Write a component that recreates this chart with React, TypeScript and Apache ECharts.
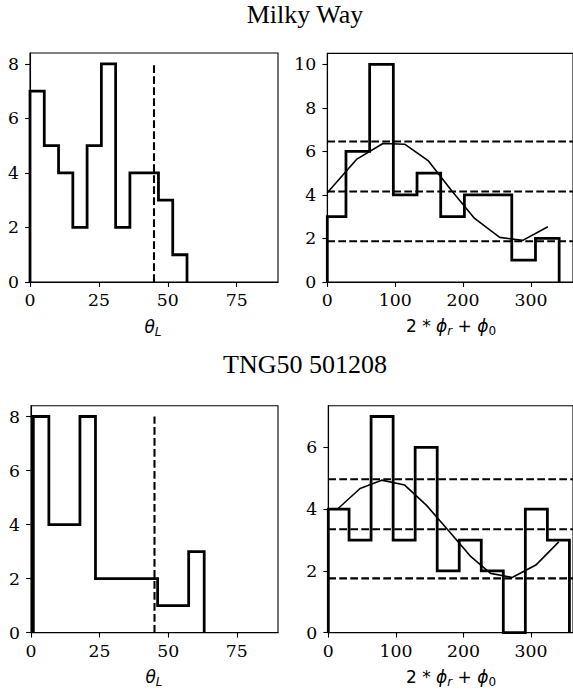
import React, { useEffect, useRef } from "react";
import * as echarts from "echarts";

// Milky Way: inclination histogram (theta_L)
const mwThetaEdges = [0, 5.18, 10.36, 15.54, 20.72, 25.9, 31.08, 36.26, 41.44, 46.62, 51.8, 56.98];
const mwThetaCounts = [7, 5, 4, 2, 5, 8, 2, 4, 4, 3, 1];

// Milky Way: phase histogram (2*phi_r + phi_0) with fitted curve and levels
const mwPhaseEdges = [0, 27.5, 62.4, 97.3, 132.2, 167.1, 202, 236.9, 271.8, 306.7, 341.6];
const mwPhaseCounts = [3, 6, 10, 4, 5, 3, 4, 4, 1, 2];
const mwFitX = [0, 43, 82, 114, 149, 183, 217, 254, 288, 325];
const mwFitY = [4.1, 5.63, 6.36, 6.33, 5.56, 4.2, 2.92, 2.05, 1.91, 2.54];
const mwLevels = [6.45, 4.16, 1.87];

// TNG50 501208: inclination histogram
const tngThetaEdges = [0.85, 6.51, 12.17, 17.83, 23.49, 29.15, 34.81, 40.47, 46.13, 51.79, 57.45, 63.11];
const tngThetaCounts = [8, 4, 4, 8, 2, 2, 2, 2, 1, 1, 3];

// TNG50 501208: phase histogram with fitted curve and levels
const tngPhaseEdges = [0, 30.7, 63.3, 95.9, 128.5, 161.1, 193.7, 226.3, 258.9, 291.5, 324.1, 356.7];
const tngPhaseCounts = [4, 3, 7, 3, 6, 2, 3, 2, 0, 4, 3];
const tngFitX = [15, 47, 79, 113, 145, 178, 211, 240, 272, 307, 341];
const tngFitY = [4.03, 4.67, 4.94, 4.78, 4.13, 3.3, 2.46, 1.92, 1.79, 2.19, 2.94];
const tngLevels = [4.97, 3.35, 1.76];

// Reference angle on the inclination panels
const thetaRef = 45;
const thetaRefTop = 8;

// Axis extents and tick values
const thetaMax = 90;
const phaseMax = 362;
const thetaTicks = [0, 25, 50, 75];
const phaseTicks = [0, 100, 200, 300];
const mwThetaYMax = 8.4;
const mwPhaseYMax = 10.5;
const tngThetaYMax = 8.4;
const tngPhaseYMax = 7.35;
const thetaYTicks = [0, 2, 4, 6, 8];
const mwPhaseYTicks = [0, 2, 4, 6, 8, 10];
const tngPhaseYTicks = [0, 2, 4, 6];

const stepOutline = (edges: number[], counts: number[]) => {
  const pts: number[][] = [[edges[0], 0]];
  counts.forEach((c, i) => {
    pts.push([edges[i], c]);
    pts.push([edges[i + 1], c]);
  });
  pts.push([edges[edges.length - 1], 0]);
  return pts;
};

const zip = (xs: number[], ys: number[]) => xs.map((x, i) => [x, ys[i]]);

const BLACK = "#000";
const TICK_FONT = "DejaVu Serif";
const MATH_FONT = "DejaVu Sans";
const TICK_SIZE = 17.3;
const MATH_SIZE = 17;
const SUB_SIZE = 12;

export default function App() {
  const ref = useRef<HTMLDivElement>(null);

  useEffect(() => {
    if (!ref.current) return;
    const chart = echarts.init(ref.current, undefined, { renderer: "svg" });

    const grids = [
      { left: 30, top: 53, width: 248, height: 229 },
      { left: 327.3, top: 53.4, width: 245.8, height: 228.6 },
      { left: 31, top: 405.7, width: 247, height: 227 },
      { left: 328.3, top: 405.7, width: 245.3, height: 227 },
    ].map((g) => ({
      ...g,
      show: true,
      borderColor: BLACK,
      borderWidth: 1.1,
      backgroundColor: "transparent",
    }));

    const makeAxis = (i: number, max: number, ticks: number[], margin: number) => ({
      type: "value" as const,
      gridIndex: i,
      min: 0,
      max,
      splitLine: { show: false },
      axisLine: { show: true, onZero: false, lineStyle: { color: BLACK, width: 1.1 } },
      axisTick: {
        show: true,
        inside: false,
        length: 4.9,
        customValues: ticks,
        lineStyle: { color: BLACK, width: 1.1 },
      },
      axisLabel: {
        show: true,
        customValues: ticks,
        margin,
        color: BLACK,
        fontFamily: TICK_FONT,
        fontSize: TICK_SIZE,
      },
    });

    const xAxis = [
      makeAxis(0, thetaMax, thetaTicks, 9.5),
      makeAxis(1, phaseMax, phaseTicks, 9.5),
      makeAxis(2, thetaMax, thetaTicks, 9.5),
      makeAxis(3, phaseMax, phaseTicks, 9.5),
    ];

    const yAxis = [
      makeAxis(0, mwThetaYMax, thetaYTicks, 11),
      makeAxis(1, mwPhaseYMax, mwPhaseYTicks, 11),
      makeAxis(2, tngThetaYMax, thetaYTicks, 11),
      makeAxis(3, tngPhaseYMax, tngPhaseYTicks, 11),
    ];

    const histSeries = (idx: number, edges: number[], counts: number[]) => ({
      type: "line" as const,
      xAxisIndex: idx,
      yAxisIndex: idx,
      data: stepOutline(edges, counts),
      symbol: "none",
      lineStyle: { color: BLACK, width: 2.78, join: "miter" as const, cap: "butt" as const },
      z: 3,
    });

    const dashed = { color: BLACK, width: 2.08, type: [7.7, 3.3] };

    const refLine = (idx: number) => ({
      type: "line" as const,
      xAxisIndex: idx,
      yAxisIndex: idx,
      data: [
        [thetaRef, 0],
        [thetaRef, thetaRefTop],
      ],
      symbol: "none",
      lineStyle: dashed,
      z: 2,
    });

    const levelLines = (idx: number, levels: number[]) =>
      levels.map((v) => ({
        type: "line" as const,
        xAxisIndex: idx,
        yAxisIndex: idx,
        data: [
          [0, v],
          [phaseMax, v],
        ],
        symbol: "none",
        lineStyle: dashed,
        z: 2,
      }));

    const fitCurve = (idx: number, xs: number[], ys: number[]) => ({
      type: "line" as const,
      xAxisIndex: idx,
      yAxisIndex: idx,
      data: zip(xs, ys),
      symbol: "none",
      lineStyle: { color: BLACK, width: 1.6 },
      z: 4,
    });

    const series = [
      histSeries(0, mwThetaEdges, mwThetaCounts),
      refLine(0),
      histSeries(1, mwPhaseEdges, mwPhaseCounts),
      ...levelLines(1, mwLevels),
      fitCurve(1, mwFitX, mwFitY),
      histSeries(2, tngThetaEdges, tngThetaCounts),
      refLine(2),
      histSeries(3, tngPhaseEdges, tngPhaseCounts),
      ...levelLines(3, tngLevels),
      fitCurve(3, tngFitX, tngFitY),
    ];

    const mathRich = {
      m: { fontFamily: MATH_FONT, fontStyle: "italic", fontSize: MATH_SIZE, lineHeight: 22, verticalAlign: "middle", fill: BLACK },
      n: { fontFamily: MATH_FONT, fontSize: MATH_SIZE, lineHeight: 22, verticalAlign: "middle", fill: BLACK },
      s: { fontFamily: MATH_FONT, fontStyle: "italic", fontSize: SUB_SIZE, lineHeight: 12, verticalAlign: "bottom", fill: BLACK },
      t: { fontFamily: MATH_FONT, fontSize: SUB_SIZE, lineHeight: 12, verticalAlign: "bottom", fill: BLACK },
    };

    const mathLabel = (x: number, y: number, text: string) => ({
      type: "text" as const,
      x,
      y,
      style: {
        text,
        align: "center",
        verticalAlign: "middle",
        rich: mathRich,
      },
    });

    const title = (y: number, text: string) => ({
      type: "text" as const,
      x: 305,
      y,
      style: {
        text,
        fill: BLACK,
        fontFamily: "Liberation Serif",
        fontSize: 26,
        align: "center",
        verticalAlign: "middle",
      },
    });

    const thetaLabel = "{m|θ}{s|L}";
    const phaseLabel = "{n|2 * }{m|ϕ}{s|r}{n| + }{m|ϕ}{t|0}";

    chart.setOption({
      animation: false,
      backgroundColor: "#fff",
      grid: grids,
      xAxis,
      yAxis,
      series,
      graphic: [
        title(14, "Milky Way"),
        title(364.5, "TNG50 501208"),
        mathLabel(153, 327, thetaLabel),
        mathLabel(451, 326, phaseLabel),
        mathLabel(154, 677, thetaLabel),
        mathLabel(451, 677, phaseLabel),
      ],
    });

    return () => chart.dispose();
  }, []);

  return (
    <div
      ref={ref}
      style={{ position: "absolute", left: 0, top: 0, width: 573, height: 690, overflow: "hidden" }}
    />
  );
}
